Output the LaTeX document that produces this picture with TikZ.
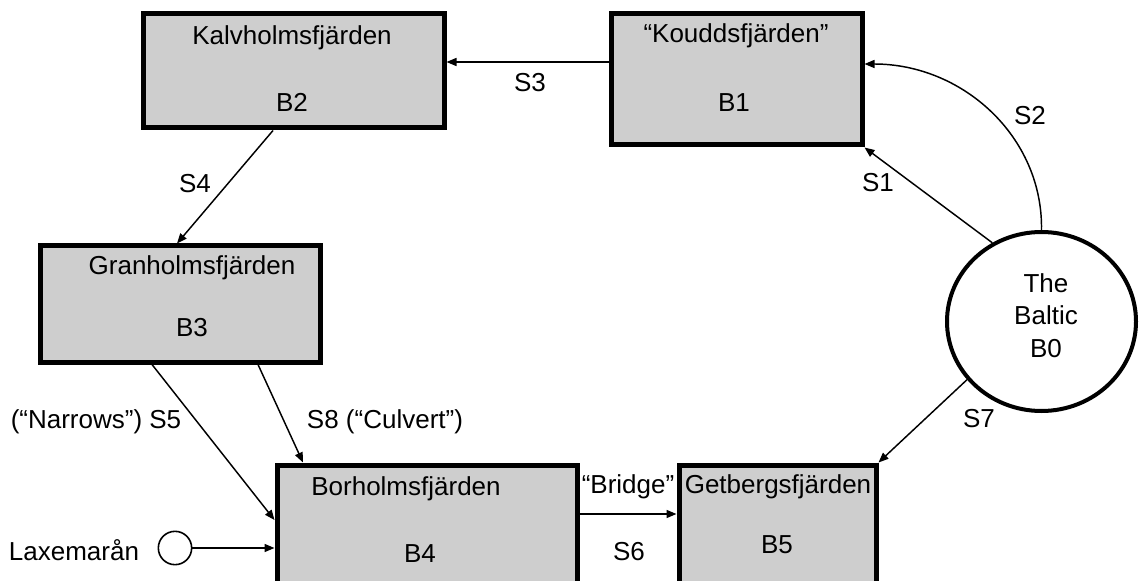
\documentclass[tikz,border=0pt]{standalone}
\usepackage{fontspec}
\setmainfont{Liberation Sans}
\usetikzlibrary{arrows.meta,fit,shapes.geometric}
\definecolor{boxfill}{RGB}{206,206,206}
\begin{document}
\begin{tikzpicture}[x=0.75pt,y=-0.75pt,
  box/.style={draw,line width=3.75pt,fill=boxfill,inner sep=0pt},
  lab/.style={font=\fontsize{19.5}{22}\selectfont,anchor=base,inner sep=0pt},
  arr/.style={-{Triangle[length=7.5pt,width=6pt]},line width=1.1pt},
]
\useasboundingbox (0,0) rectangle (1140,581);
% boxes
\node[box,fit={(143,14)(444,128)}] (b2) {};
\node[box,fit={(611,14)(862,145)}] (b1) {};
\node[box,fit={(40,246)(320,362)}] (b3) {};
\node[box,fit={(277,465)(577,590)}] (b4) {};
\node[box,fit={(679,465)(876,590)}] (b5) {};
\node[ellipse,draw,line width=3pt,minimum width=141.75pt,minimum height=134.25pt,inner sep=0pt] (b0) at (1041.5,321.5) {};
\node[circle,draw,line width=1.2pt,minimum size=25pt,inner sep=0pt] (lax) at (175,548) {};
% box texts
\node[lab] (t2) at (292,45) {Kalvholmsfjärden};
\node[lab] (i2) at (292,112) {B2};
\node[lab] (t1) at (736,43) {“Kouddsfjärden”};
\node[lab] (i1) at (734,112) {B1};
\node[lab] (t3) at (192,275) {Granholmsfjärden};
\node[lab] (i3) at (192,336) {B3};
\node[lab] (t4) at (406,495) {Borholmsfjärden};
\node[lab] (i4) at (420,562) {B4};
\node[lab] (t5) at (778,493) {Getbergsfjärden};
\node[lab] (i5) at (777,553) {B5};
\node[lab] (t0a) at (1046,292) {The};
\node[lab] (t0b) at (1046,325) {Baltic};
\node[lab] (t0c) at (1046,358) {B0};
\node[lab] (tlax) at (74,560) {Laxemarån};
% connector labels
\node[lab] (ls3) at (530,92) {S3};
\node[lab] (ls4) at (195,193) {S4};
\node[lab] (ls5) at (96,428) {(“Narrows”) S5};
\node[lab] (ls8) at (385,428) {S8 (“Culvert”)};
\node[lab] (ls1) at (878,192) {S1};
\node[lab] (ls2) at (1030,125) {S2};
\node[lab] (ls7) at (979,427) {S7};
\node[lab] (lbr) at (628,493) {“Bridge”};
\node[lab] (ls6) at (629,560) {S6};
% helper coordinates
\coordinate (y62) at (0,62);
\coordinate (x273) at (273,0);
\coordinate (x177) at (177,0);
\coordinate (x152) at (152,0);
\coordinate (y520) at (0,520);
\coordinate (x258) at (258,0);
\coordinate (x303) at (303,0);
\coordinate (y514) at (0,514);
\coordinate (y64) at (0,64);
% connectors
\draw[arr] (b1.west |- y62) -- (b2.east |- y62);
\draw[arr] (b2.south -| x273) -- (b3.north -| x177);
\draw[arr] (b3.south -| x152) -- (b4.west |- y520);
\draw[arr] (b3.south -| x258) -- (b4.north -| x303);
\draw[arr] (b4.east |- y514) -- (b5.west |- y514);
\draw[arr] (lax.east) -- (b4.west |- lax.east);
\draw[arr] (b0.122) -- (b1.south east);
\draw[arr] (b0.north) .. controls (1043,137) and (963,64) .. (b1.east |- y64);
\draw[arr] (b0.218) -- (b5.north east);
\end{tikzpicture}
\end{document}
